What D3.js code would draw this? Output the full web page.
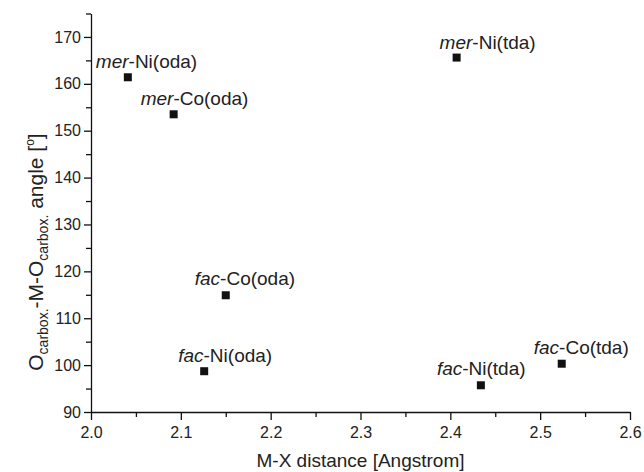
<!DOCTYPE html>
<html>
<head>
<meta charset="utf-8">
<script src="https://cdn.jsdelivr.net/npm/d3@7/dist/d3.min.js"></script>
<style>
  body { margin: 0; background: #fff; }
  svg { display: block; font-family: "Liberation Sans", Arial, sans-serif; }
</style>
</head>
<body>
<script>
// values
var isomer = ["mer", "mer", "mer", "fac", "fac", "fac", "fac"];
var complexName = ["Ni(oda)", "Co(oda)", "Ni(tda)", "Co(oda)", "Ni(oda)", "Ni(tda)", "Co(tda)"];
var distance = [2.041, 2.092, 2.407, 2.150, 2.126, 2.434, 2.524];
var angle = [161.4, 153.5, 165.6, 114.9, 98.7, 95.7, 100.3];

var xTicks = [2.0, 2.1, 2.2, 2.3, 2.4, 2.5, 2.6];
var yTicks = [90, 100, 110, 120, 130, 140, 150, 160, 170];

// label placement, px from the marker (start of text, baseline)
var labelDx = [-32, -33, -17, -31, -26, -44, -28];
var labelDy = [-9, -9, -9, -10, -9, -10, -10];

var svgWidth = 644;
var svgHeight = 472;
var fontSize = 19;

var svg = d3.select('body').append('svg')
	.attr("width", svgWidth)
	.attr("height", svgHeight);

var x = d3.scaleLinear().domain([2.0, 2.6]).range([91, 630]);
var y = d3.scaleLinear().domain([90, 175]).range([412, 13.5]);

// minor ticks first, majors drawn over them
var xMinor = d3.range(2.05, 2.6, 0.1);
var yMinor = d3.range(95, 180, 10);

svg.append("g")
	.attr("transform", "translate(0," + y(90) + ")")
	.call(d3.axisBottom(x).tickValues(xMinor).tickSize(5).tickFormat(""))
	.call(g => g.select(".domain").remove());

svg.append("g")
	.attr("transform", "translate(" + x(2.0) + ",0)")
	.call(d3.axisLeft(y).tickValues(yMinor).tickSize(5).tickFormat(""))
	.call(g => g.select(".domain").remove());

var xAxis = svg.append("g")
	.attr("transform", "translate(0," + y(90) + ")")
	.call(d3.axisBottom(x).tickValues(xTicks).tickSize(8).tickSizeOuter(0).tickPadding(7).tickFormat(d3.format(".1f")));

var yAxis = svg.append("g")
	.attr("transform", "translate(" + x(2.0) + ",0)")
	.call(d3.axisLeft(y).tickValues(yTicks).tickSize(7).tickSizeOuter(0).tickPadding(3));

svg.selectAll(".tick line, .domain")
	.attr("stroke", "#111")
	.attr("stroke-width", 1.3);

svg.selectAll(".tick text")
	.attr("font-size", 16)
	.attr("fill", "#222")
	.attr("font-family", "Liberation Sans, Arial, sans-serif");

// axis titles
svg.append("text")
	.attr("x", (x(2.0) + x(2.6)) / 2)
	.attr("y", 467)
	.attr("text-anchor", "middle")
	.attr("font-size", fontSize)
	.attr("fill", "#222")
	.text("M-X distance [Angstrom]");

var yTitle = svg.append("text")
	.attr("transform", "translate(43,252) rotate(-90)")
	.attr("text-anchor", "middle")
	.attr("font-size", 21)
	.attr("fill", "#222");
yTitle.append("tspan").text("O");
yTitle.append("tspan").attr("font-size", 14).attr("dy", 5).text("carbox.");
yTitle.append("tspan").attr("dy", -5).text("-M-O");
yTitle.append("tspan").attr("font-size", 14).attr("dy", 5).text("carbox.");
yTitle.append("tspan").attr("dy", -5).text(" angle [");
yTitle.append("tspan").attr("font-size", 12).attr("dy", -9).text("o");
yTitle.append("tspan").attr("dy", 9).text("]");

// points
var idx = d3.range(distance.length);
var markerSize = 8;

svg.selectAll('rect.pt')
	.data(idx)
	.enter()
	.append('rect')
	.attr("class", "pt")
	.attr("x", function(i) { return x(distance[i]) - markerSize / 2; })
	.attr("y", function(i) { return y(angle[i]) - markerSize / 2; })
	.attr("width", markerSize)
	.attr("height", markerSize)
	.attr("fill", "#111");

var labels = svg.selectAll('text.lbl')
	.data(idx)
	.enter()
	.append('text')
	.attr("class", "lbl")
	.attr("x", function(i) { return x(distance[i]) + labelDx[i]; })
	.attr("y", function(i) { return y(angle[i]) + labelDy[i]; })
	.attr("font-size", fontSize)
	.attr("fill", "#222");

labels.append("tspan")
	.attr("font-style", "italic")
	.text(function(i) { return isomer[i]; });
labels.append("tspan")
	.text(function(i) { return "-" + complexName[i]; });
</script>
</body>
</html>
